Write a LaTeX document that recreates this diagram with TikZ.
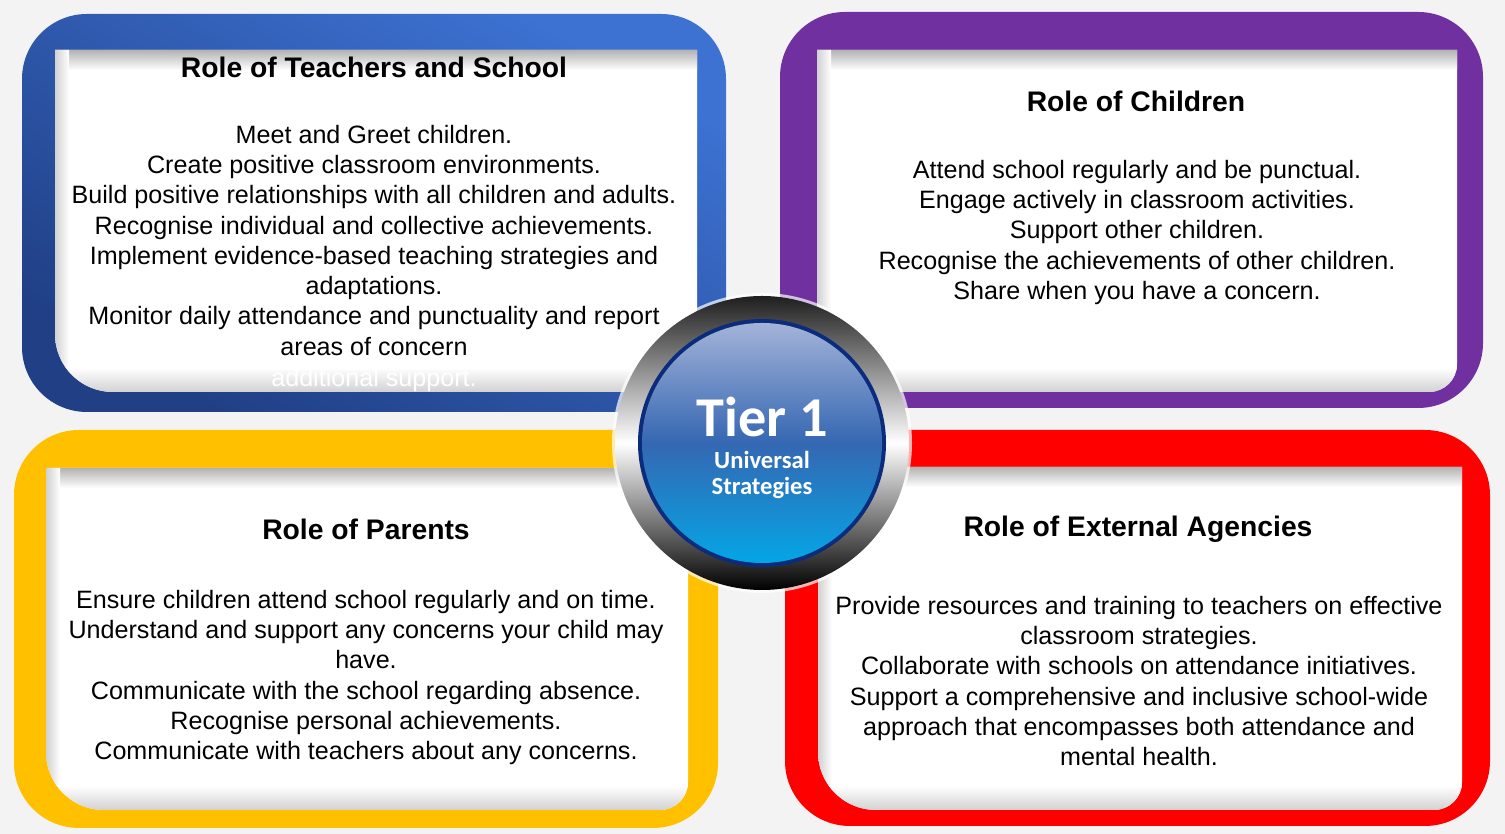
\documentclass[tikz,border=0pt]{standalone}
\usepackage{fontspec}
\setmainfont{Liberation Sans}
\newfontfamily\tierfont{Carlito}
\usetikzlibrary{positioning}

\definecolor{frameblueA}{HTML}{3D72D3}
\definecolor{frameblueB}{HTML}{203F85}
\definecolor{framepurple}{HTML}{7030A0}
\definecolor{frameyellow}{HTML}{FFC000}
\definecolor{framered}{HTML}{FF0000}
\definecolor{discnavy}{HTML}{0B2C7C}
\definecolor{disctop}{HTML}{A3B3D8}
\definecolor{discmid}{HTML}{3567B2}
\definecolor{discbot}{HTML}{04A6E6}
\definecolor{pagegray}{HTML}{F3F3F3}

% white card inside each frame: {left}{right}{bottom}{top}
\newcommand{\cardpath}[4]{(#1,#4) -- (#2,#4) -- (#2,#3+28) arc[start angle=0, end angle=-90, radius=28] -- (#1+58,#3) arc[start angle=270, end angle=180, radius=58] -- cycle}
\newcommand{\rolecard}[4]{%
  \fill[white] \cardpath{#1}{#2}{#3}{#4};
  \begin{scope}
    \clip \cardpath{#1}{#2}{#3}{#4};
    \shade[top color=black!30, bottom color=white] (#1,#4-20) rectangle (#2,#4);
    \shade[left color=black!18, right color=white] (#1,#3) rectangle (#1+14,#4);
    \shade[top color=white, bottom color=black!18] (#1,#3) rectangle (#2,#3+24);
  \end{scope}}

\begin{document}
\begin{tikzpicture}[x=0.02cm, y=0.02cm,
  frameshape/.style={rounded corners=1.3cm},
  roletitle/.style={anchor=base, inner sep=0pt, font=\bfseries\fontsize{16.1}{19}\selectfont},
  rolebody/.style={anchor=north, align=center, inner sep=0pt, font=\fontsize{14.3}{17.2}\selectfont}]

  \fill[pagegray] (0,0) rectangle (1505,834);
  \useasboundingbox (0,0) rectangle (1505,834);

  \shade[frameshape, top color=frameblueA, bottom color=frameblueB, shading angle=-30] (22,422) rectangle (726,820);
  \fill[frameshape, framepurple] (780,426) rectangle (1483,822);
  \fill[frameshape, frameyellow] (14,6) rectangle (718,404);
  \fill[frameshape, framered] (785,8) rectangle (1490,404);

  \rolecard{55}{697}{442}{784}
  \rolecard{817}{1457}{442}{784}
  \rolecard{46}{688}{24}{366}
  \rolecard{818}{1462}{24}{367}

  \node[roletitle] (teachTitle) at (374,756) {Role of Teachers and School};
  \node[rolebody] (teachBody) at (374,709) {Meet and Greet children.\\
    Create positive classroom environments.\\
    Build positive relationships with all children and adults.\\
    Recognise individual and collective achievements.\\
    Implement evidence-based teaching strategies and\\
    adaptations.\\
    Monitor daily attendance and punctuality and report\\
    areas of concern};
  \node[rolebody, anchor=base, text=white] (teachExtra) at (374,447) {additional support.};

  \node[roletitle] (childTitle) at (1136,722) {Role of Children};
  \node[rolebody] (childBody) at (1137,674) {Attend school regularly and be punctual.\\
    Engage actively in classroom activities.\\
    Support other children.\\
    Recognise the achievements of other children.\\
    Share when you have a concern.};

  \node[roletitle] (parentTitle) at (366,294) {Role of Parents};
  \node[rolebody] (parentBody) at (366,244) {Ensure children attend school regularly and on time.\\
    Understand and support any concerns your child may\\
    have.\\
    Communicate with the school regarding absence.\\
    Recognise personal achievements.\\
    Communicate with teachers about any concerns.};

  \node[roletitle] (agencyTitle) at (1138,297) {Role of External Agencies};
  \node[rolebody] (agencyBody) at (1139,238) {Provide resources and training to teachers on effective\\
    classroom strategies.\\
    Collaborate with schools on attendance initiatives.\\
    Support a comprehensive and inclusive school-wide\\
    approach that encompasses both attendance and\\
    mental health.};

  \coordinate (hub) at (762,391);
  \fill[white, opacity=0.7] (hub) circle [radius=150];
  \shade[top color=black!88, bottom color=black, middle color=white] (hub) circle [radius=147];
  \fill[discnavy] (hub) circle [radius=124];
  \shade[top color=disctop, bottom color=discbot, middle color=discmid] (hub) circle [radius=120];

  \node[anchor=base, inner sep=0pt, text=white, font=\tierfont\bfseries\fontsize{32}{36}\selectfont] (tier) at (762,397) {Tier 1};
  \node[anchor=base, inner sep=0pt, text=white, align=center, font=\tierfont\bfseries\fontsize{14}{15.3}\selectfont] (tierSub) at (762,339) {Universal\\Strategies};

\end{tikzpicture}
\end{document}
